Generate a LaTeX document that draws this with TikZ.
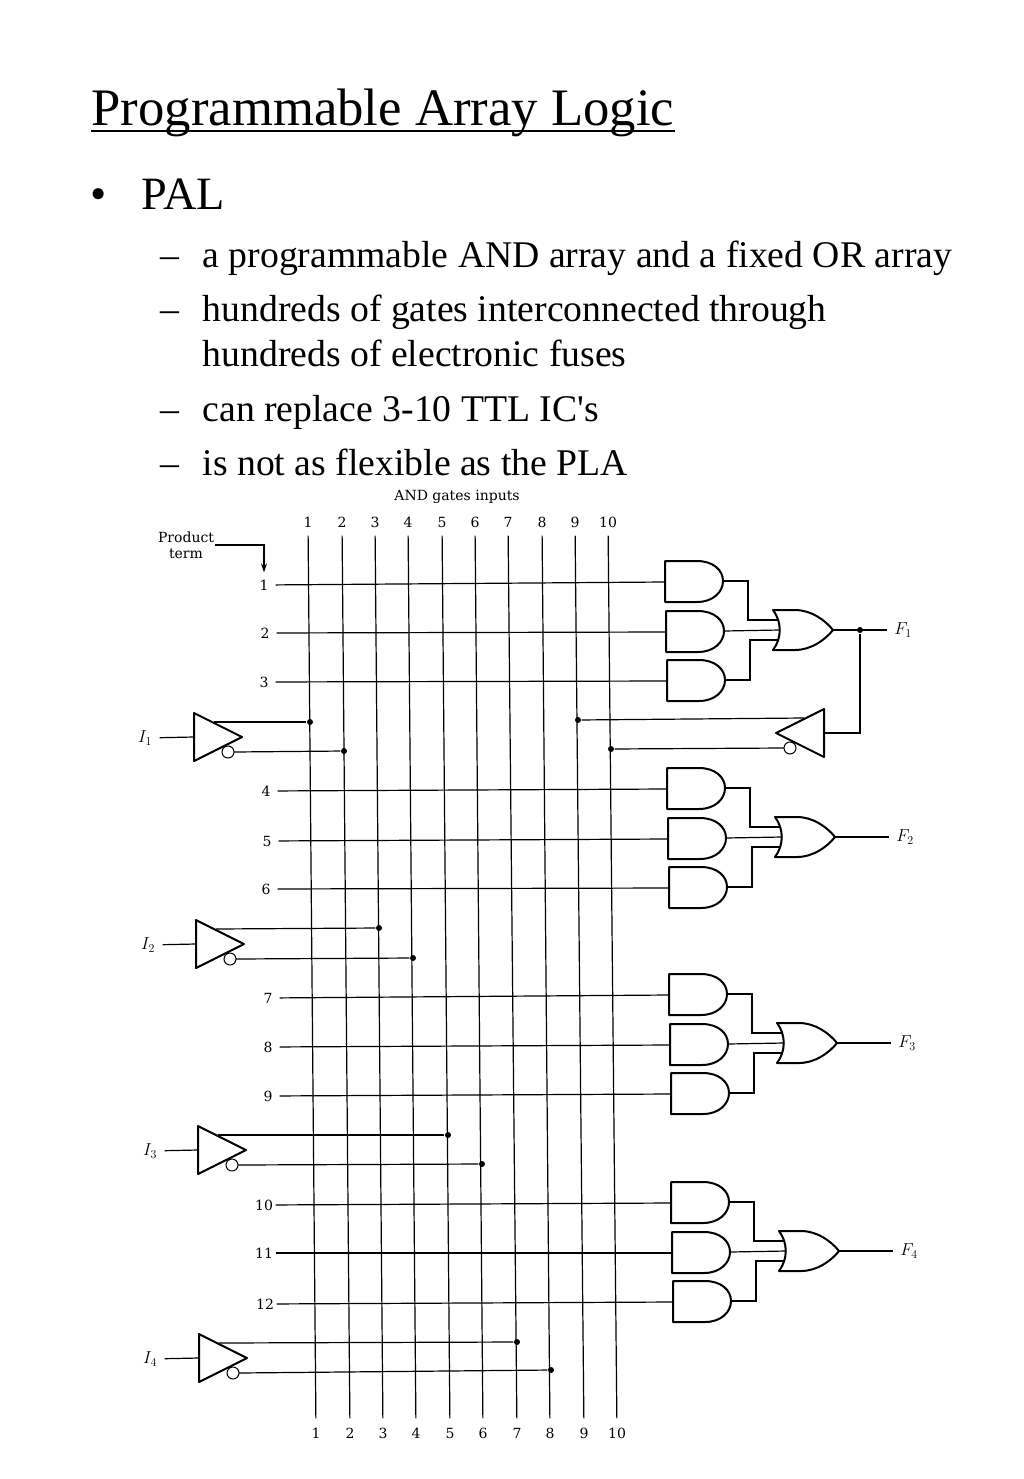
\documentclass[tikz,border=0pt]{standalone}
\usepackage{fontspec}
\setmainfont{Liberation Serif}
\newfontfamily\diagfont{DejaVu Serif}
\usetikzlibrary{arrows.meta}
\tikzset{
	gate/.style={draw,line width=2pt,line join=round},
	andgate/.pic={
		\draw[gate] (0,0) -- (32,0) .. controls (48,0) and (58,9) .. (58,20) .. controls (58,31) and (48,41) .. (32,41) -- (0,41) -- cycle;
		\coordinate (-in) at (0,21);
		\coordinate (-out) at (58,20);
	},
	orgate/.pic={
		\draw[gate] (0,0) -- (22,0) .. controls (38,0) and (52,10) .. (60,20) .. controls (52,30) and (38,40) .. (22,40) -- (0,40) .. controls (9,28) and (9,12) .. (0,0) -- cycle;
		\coordinate (-a) at (5,10);
		\coordinate (-b) at (7,20);
		\coordinate (-c) at (5,30);
		\coordinate (-out) at (60,20);
	},
	invgate/.pic={
		\draw[gate] (0,0) -- (48,24) -- (0,48) -- cycle;
		\draw[line width=1pt,fill=white] (34,39) circle (6);
		\coordinate (-in) at (0,24);
		\coordinate (-up) at (20,9);
		\coordinate (-dn) at (40,39);
	}
}
\begin{document}
\begin{tikzpicture}[x=1pt,y=-1pt,line width=1.2pt]
\tikzstyle{lbl}=[font=\diagfont\fontsize{14}{16}\selectfont,inner sep=0pt]
\tikzstyle{mlbl}=[font=\fontsize{18}{18}\selectfont,inner sep=0pt]
\tikzstyle{dot}=[circle,fill=black,minimum size=6pt,inner sep=0pt]
\tikzstyle{txt}=[anchor=base west,inner sep=0pt]
\useasboundingbox (0,0) rectangle (1024,1479);
\node[txt,font=\fontsize{52.7}{53}\selectfont] (title) at (91,125.5) {Programmable Array Logic};
\draw[line width=2pt] (title.south west |- 0,131) coordinate (ul) -- (title.south east |- 0,131) coordinate (ur);
\foreach \name/\point/\size/\tx in {
	bul/{90,210}/46.3/•,
	pal/{141,210}/46.3/PAL,
	da/{160,267}/37.7/–,
	db/{160,321}/37.7/–,
	dc/{160,421}/37.7/–,
	dd/{160,475}/37.7/–,
	la/{202,267}/37.7/a programmable AND array and a fixed OR array,
	lb/{202,321}/37.7/hundreds of gates interconnected through,
	lc/{202,366}/37.7/hundreds of electronic fuses,
	ld/{202,421}/37.7/can replace 3-10 TTL IC\textquotesingle s,
	le/{202,475}/37.7/is not as flexible as the PLA}
	\node[txt,font=\fontsize{\size}{\size}\selectfont] (\name) at (\point) {\tx};
\node[lbl] (head) at (457,497) {AND gates inputs};
\node[lbl,align=center] (pt) at (186,545) {Product\\term};
% vertical input lines
\foreach \n/\xa/\xb in {1/308/316,2/342/350,3/375/383,4/408/416,5/442/450,6/475/483,7/508/517,8/542/550,9/575/584,10/608/617} {
	\node[lbl,minimum height=26pt] (t\n) at (\xa,522) {\n};
	\node[lbl,minimum height=28pt] (b\n) at (\xb,1433) {\n};
	\draw (t\n) -- (b\n);
}
% gates of each group
\foreach \g/\gx/\gy in {1/665/561,2/667/768,3/669/974,4/671/1182} {
	\begin{scope}[shift={(\gx,\gy)}]
	\pic (a\g1) at (0,0) {andgate};
	\pic (a\g2) at (1,50) {andgate};
	\pic (a\g3) at (2,99) {andgate};
	\pic (o\g) at (108,49) {orgate};
	\node[mlbl,minimum width=30pt] (f\g) at (238,69) {$F_\g$};
	\end{scope}
	\draw (a\g1-out) -- ++(25,0) |- (o\g-a);
	\draw (a\g2-out) -- (o\g-b);
	\draw (a\g3-out) -- ++(25,0) |- (o\g-c);
	\draw (o\g-out) -- (f\g);
}
% product terms
\foreach \n/\point/\gate in {
	1/{264,585}/a11,
	2/{265,633}/a12,
	3/{264,682}/a13,
	4/{266,791}/a21,
	5/{267,841}/a22,
	6/{266,889}/a23,
	7/{268,998}/a31,
	8/{268,1047}/a32,
	9/{268,1096}/a33,
	10/{264,1205}/a41,
	11/{264,1253}/a42,
	12/{265,1304}/a43} {
	\node[lbl,minimum width=22pt,minimum height=24pt] (p\n) at (\point) {\n};
	\draw (p\n) -- (\gate-in);
}
\draw[-{Stealth[length=9pt,width=6pt]}] (pt) -| (p1);
% input inverters
\foreach \i/\point/\lab/\dotup/\dotdn in {
	1/{194,713}/{145,738}/{310,722}/{344,751},
	2/{196,920}/{148,945}/{379,928}/{413,958},
	3/{198,1126}/{150,1151}/{448,1135}/{482,1164},
	4/{199,1334}/{150,1359}/{517,1342}/{551,1370}} {
	\pic (n\i) at (\point) {invgate};
	\node[mlbl,minimum width=28pt] (l\i) at (\lab) {$I_\i$};
	\node[dot] (u\i) at (\dotup) {};
	\node[dot] (v\i) at (\dotdn) {};
	\draw (l\i) -- (n\i-in);
	\draw (n\i-up) -- (u\i);
	\draw (n\i-dn) -- (v\i);
}
% feedback from F1
\pic[xscale=-1] (fb) at (824,709) {invgate};
\node[dot] (fd) at (860,630) {};
\node[dot] (fu) at (578,720) {};
\node[dot] (fv) at (611,749) {};
\draw (fd) |- (fb-in);
\draw (fb-up) -- (fu);
\draw (fb-dn) -- (fv);
\end{tikzpicture}
\end{document}
